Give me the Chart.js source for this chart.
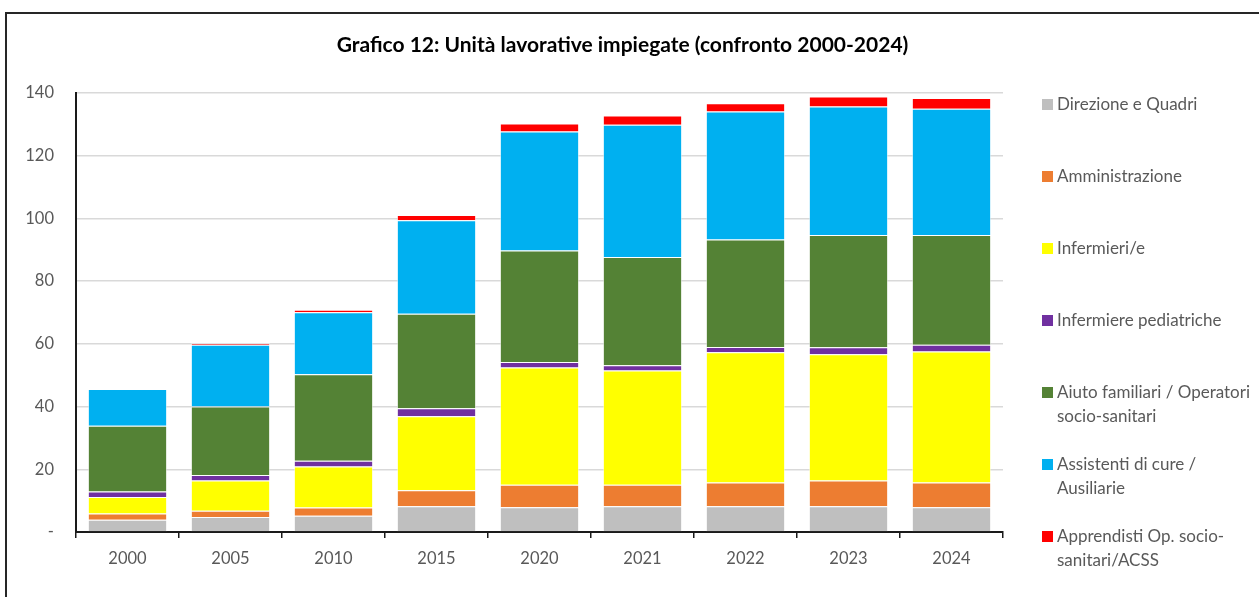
<!DOCTYPE html>
<html>
<head>
<meta charset="utf-8">
<script src="https://cdn.jsdelivr.net/npm/chart.js@4.4.1/dist/chart.umd.min.js"></script>
<style>
  html, body { margin: 0; padding: 0; background: #fff; }
  #wrap { position: relative; width: 1259px; height: 597px; overflow: hidden; font-family: Lato, "Open Sans", sans-serif; }
  #frame { position: absolute; left: 5px; top: 12px; width: 1260px; height: 600px; border: 2px solid #262626; box-sizing: border-box; }
  #title { position: absolute; left: 0; top: 31px; width: 1245px; text-align: center; font-weight: bold; font-size: 21px; color: #000; }
  #chart { position: absolute; left: 0; top: 0; }
  .leg { position: absolute; left: 1042px; font-size: 17px; color: #595959; line-height: 24px; }
  .leg i { position: absolute; left: 0; top: 7px; width: 11px; height: 11px; }
  .leg span { display: block; margin-left: 15px; white-space: nowrap; }
</style>
</head>
<body>
<div id="wrap">
  <div id="frame"></div>
  <canvas id="chart" width="1259" height="597"></canvas>
  <div id="title">Grafico 12: Unità lavorative impiegate (confronto 2000-2024)</div>
  <div id="legend"></div>
</div>
<script>
const years = ['2000', '2005', '2010', '2015', '2020', '2021', '2022', '2023', '2024'];

const seriesNames = [
  ['Direzione e Quadri'],
  ['Amministrazione'],
  ['Infermieri/e'],
  ['Infermiere pediatriche'],
  ['Aiuto familiari / Operatori', 'socio-sanitari'],
  ['Assistenti di cure /', 'Ausiliarie'],
  ['Apprendisti Op. socio-', 'sanitari/ACSS']
];
const seriesColors = ['#bfbfbf', '#ed7d31', '#ffff00', '#7030a0', '#548235', '#00b0f0', '#ff0000'];

const direzione      = [3.9, 4.8, 5.2, 8.2, 7.9, 8.2, 8.2, 8.2, 7.9];
const amministraz    = [2.0, 2.0, 2.6, 5.1, 7.2, 6.9, 7.6, 8.2, 7.9];
const infermieri     = [5.3, 9.6, 13.1, 23.6, 37.4, 36.4, 41.5, 40.3, 41.8];
const pediatriche    = [1.7, 1.8, 1.8, 2.6, 1.7, 1.7, 1.7, 2.2, 2.1];
const operatori      = [21.0, 21.8, 27.6, 30.1, 35.6, 34.5, 34.3, 35.8, 35.0];
const assistenti     = [11.7, 19.7, 19.8, 29.8, 37.9, 42.2, 40.8, 41.0, 40.3];
const apprendisti    = [0, 0.5, 0.8, 1.7, 2.6, 2.9, 2.6, 3.2, 3.4];

const yTicks = [0, 20, 40, 60, 80, 100, 120, 140];

const allValues = [direzione, amministraz, infermieri, pediatriche, operatori, assistenti, apprendisti];

const datasets = allValues.map((vals, i) => ({
  label: seriesNames[i].join(' '),
  data: vals,
  backgroundColor: seriesColors[i],
  borderColor: 'rgba(255,255,255,0.55)',
  borderWidth: { top: 1, bottom: 0, left: 1, right: 1 },
  barPercentage: 0.77,
  categoryPercentage: 1.0
}));

// legend in html, one block every 72px
const legendTops = [92, 164, 236, 308, 380, 452, 524];
const legendEl = document.getElementById('legend');
seriesNames.forEach((lines, i) => {
  const d = document.createElement('div');
  d.className = 'leg';
  d.style.top = legendTops[i] + 'px';
  const sq = document.createElement('i');
  sq.style.background = seriesColors[i];
  d.appendChild(sq);
  lines.forEach(t => {
    const s = document.createElement('span');
    s.textContent = t;
    d.appendChild(s);
  });
  legendEl.appendChild(d);
});

const ctx = document.getElementById('chart').getContext('2d');

new Chart(ctx, {
  type: 'bar',
  data: {
    labels: years,
    datasets: datasets
  },
  options: {
    responsive: false,
    animation: false,
    layout: {
      padding: { top: 93, right: 256, bottom: 0, left: 0 }
    },
    plugins: {
      legend: { display: false },
      title: { display: false },
      tooltip: { enabled: false }
    },
    scales: {
      x: {
        stacked: true,
        afterFit: (scale) => { scale.height = 65; },
        border: { color: '#1a1a1a', width: 2 },
        grid: {
          offset: true,
          drawOnChartArea: false,
          drawTicks: true,
          tickLength: 6,
          color: '#1a1a1a',
          lineWidth: 1.5
        },
        ticks: {
          color: '#595959',
          padding: 11,
          font: { family: 'Lato', size: 16.5 }
        }
      },
      y: {
        stacked: true,
        min: 0,
        max: 140,
        afterFit: (scale) => { scale.width = 76; },
        afterBuildTicks: (scale) => { scale.ticks = yTicks.map(v => ({ value: v })); },
        border: { color: '#1a1a1a', width: 2 },
        grid: {
          color: '#d9d9d9',
          lineWidth: 1.5,
          drawTicks: false
        },
        ticks: {
          color: '#595959',
          padding: 22,
          font: { family: 'Lato', size: 16.5 },
          callback: (v) => v === 0 ? '-' : v
        }
      }
    }
  }
});
</script>
</body>
</html>
